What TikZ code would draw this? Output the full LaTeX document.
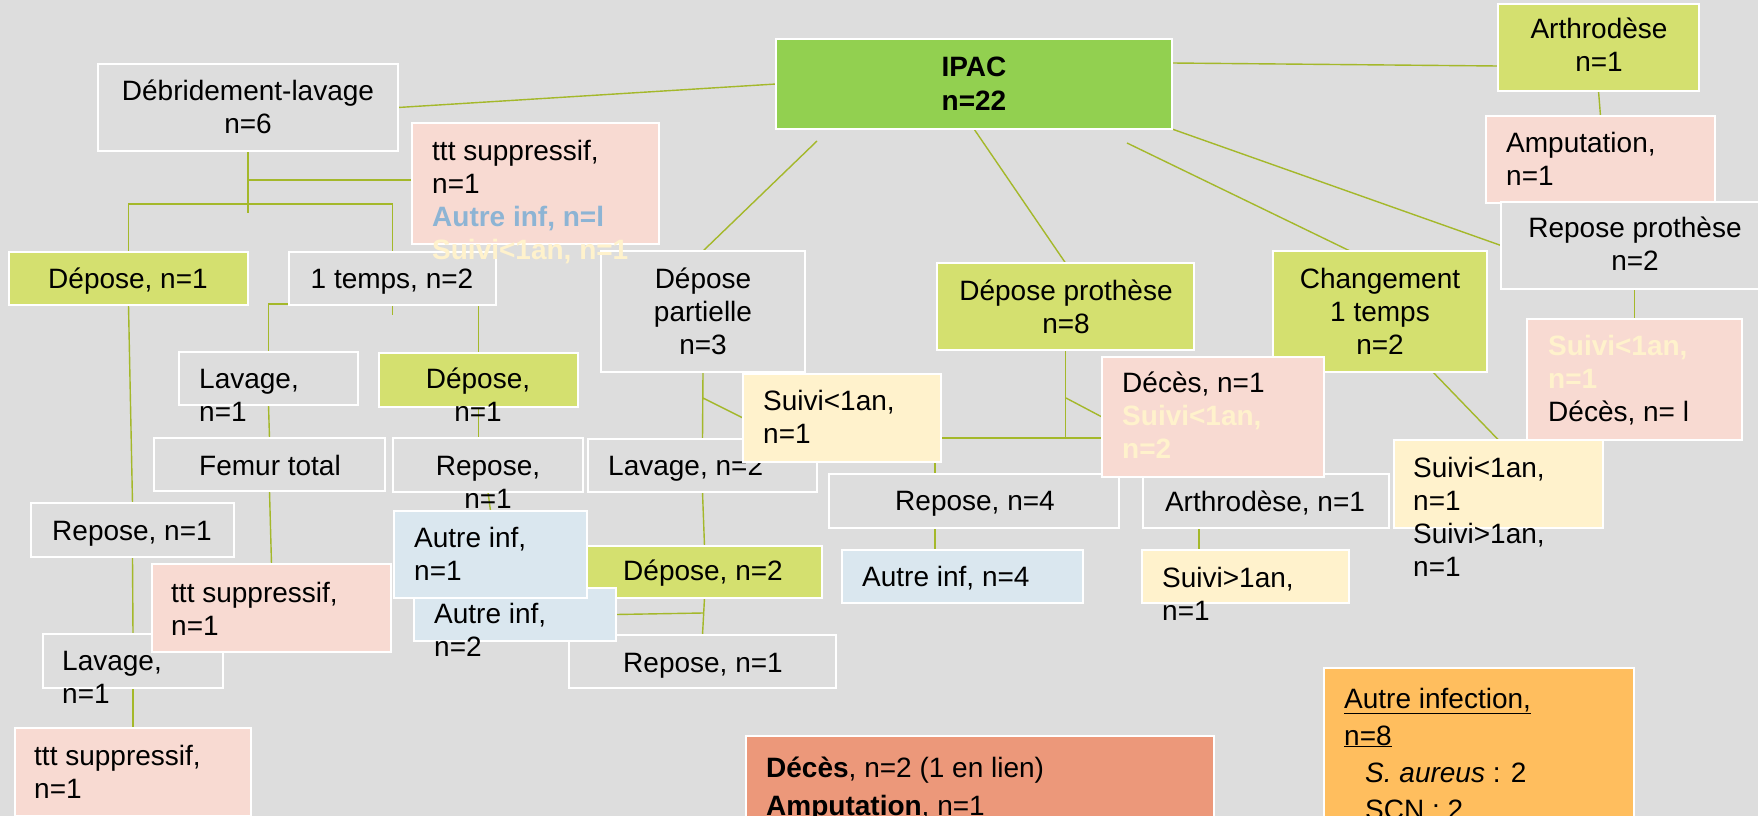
\documentclass[tikz,border=0pt]{standalone}
\usepackage{fontspec}
\setmainfont{Liberation Sans}
\usetikzlibrary{calc}
\definecolor{bggray}{HTML}{DDDDDD}
\definecolor{ipacgreen}{HTML}{92D050}
\definecolor{lgreen}{HTML}{D4E06F}
\definecolor{lpink}{HTML}{F8DAD2}
\definecolor{cream}{HTML}{FFF2CC}
\definecolor{lblue}{HTML}{DAE7EF}
\definecolor{bluetext}{HTML}{8DB4D4}
\definecolor{salmon}{HTML}{EC987A}
\definecolor{orangebox}{HTML}{FFBE5E}
\definecolor{linkgreen}{HTML}{A4B82A}
\pgfdeclarelayer{bg}
\pgfdeclarelayer{links}
\pgfsetlayers{bg,links,main}
\tikzset{
  box/.style = {
    rectangle, draw=white, line width=2pt, fill=#1,
    anchor=north west, inner sep=0pt, outer sep=0pt
  },
  box/.default = bggray,
  size/.style args = {#1/#2}{
    minimum width=#1pt, minimum height=#2pt
  },
  link/.style = {
    draw=linkgreen, line width=1.4pt
  },
  % text nodes sit on the baseline of their last line
  txt/.style = {
    inner sep=0pt, align=left, anchor=base west,
    font=\fontsize{28}{33}\selectfont
  },
  ctxt/.style = {
    txt, align=center, anchor=base
  },
}
\begin{document}
\begin{tikzpicture}[x=1pt,y=-1pt]
  \useasboundingbox (0,0) rectangle (1758,816);
  \clip (0,0) rectangle (1758,816);
  \begin{pgfonlayer}{bg}
    \fill [bggray] (0,0) rectangle (1758,816);
  \end{pgfonlayer}

  % root and first level
  \node [box, size=300/87] (deb) at (98,64) {};
  \node [ctxt] (deb-t) at (248,133) {Débridement-lavage\\n=6};
  \node [box=ipacgreen, size=396/90] (ipac) at (776,39) {};
  \node [ctxt] (ipac-t) at (974,110) {\textbf{IPAC}\\\textbf{n=22}};

  % debridement branch
  \node [box=lgreen, size=239/53] (dep1) at (9,252) {};
  \node [ctxt] (dep1-t) at (128,288) {Dépose, n=1};
  \node [box, size=207/53] (temps) at (289,252) {};
  \node [ctxt] (temps-t) at (392,288) {1 temps, n=2};
  \node [box, size=179/53] (lav1) at (179,352) {};
  \node [txt] (lav1-t) at (199,421) {Lavage,\\n=1};
  \node [box=lgreen, size=199/54] (dep2) at (379,353) {};
  \node [ctxt] (dep2-t) at (478,421) {Dépose,\\n=1};
  \node [box, size=231/53] (femur) at (154,438) {};
  \node [ctxt] (femur-t) at (270,475) {Femur total};
  \node [box, size=190/54] (rep1) at (393,438) {};
  \node [ctxt] (rep1-t) at (488,508) {Repose,\\n=1};

  % depose partielle branch
  \node [box, size=229/53] (lav2) at (588,439) {};
  \node [txt] (lav2-t) at (608,475) {Lavage, n=2};
  \node [box, size=204/121] (dp) at (601,251) {};
  \node [ctxt] (dp-t) at (703,354) {Dépose\\partielle\\n=3};
  \node [box=cream, size=198/88] (suivA) at (743,374) {};
  \node [txt] (suivA-t) at (763,443) {Suivi<1an,\\n=1};
  \node [box=lgreen, size=235/52] (depn2) at (587,546) {};
  \node [ctxt] (depn2-t) at (703,580) {Dépose, n=2};
  \node [box, size=267/53] (repB) at (569,635) {};
  \node [ctxt] (repB-t) at (703,672) {Repose, n=1};

  \node [box, size=203/54] (repL) at (31,503) {};
  \node [ctxt] (repL-t) at (132,540) {Repose, n=1};
  \node [box, size=180/54] (lav3) at (43,634) {};
  \node [txt] (lav3-t) at (62,703) {Lavage,\\n=1};
  \node [box=lpink, size=239/88] (ttt2) at (152,564) {};
  \node [txt] (ttt2-t) at (171,635) {ttt suppressif,\\n=1};
  \node [box=lpink, size=236/88] (ttt3) at (15,728) {};
  \node [txt] (ttt3-t) at (34,798) {ttt suppressif,\\n=1};
  \node [box=lblue, size=202/53] (ai2) at (414,588) {};
  \node [txt] (ai2-t) at (434,656) {Autre inf,\\n=2};
  \node [box=lblue, size=193/87] (ai1) at (394,511) {};
  \node [txt] (ai1-t) at (414,580) {Autre inf,\\n=1};

  % depose prothese branch
  \node [box=lgreen, size=257/87] (dpro) at (937,263) {};
  \node [ctxt] (dpro-t) at (1066,333) {Dépose prothèse\\n=8};
  \node [box, size=290/54] (rep4) at (829,474) {};
  \node [ctxt] (rep4-t) at (975,510) {Repose, n=4};
  \node [box=lblue, size=241/53] (ai4) at (842,550) {};
  \node [txt] (ai4-t) at (862,586) {Autre inf, n=4};
  \node [box, size=246/54] (arth1) at (1143,474) {};
  \node [ctxt] (arth1-t) at (1265,511) {Arthrodèse, n=1};
  \node [box=cream, size=207/53] (sup1) at (1142,550) {};
  \node [txt] (sup1-t) at (1162,620) {Suivi>1an,\\n=1};

  % changement branch
  \node [box=lgreen, size=214/121] (chg) at (1273,251) {};
  \node [ctxt] (chg-t) at (1380,354) {Changement\\1 temps\\n=2};
  \node [box=lpink, size=222/120] (deces1) at (1102,357) {};
  \node [txt] (deces1-t) at (1122,458) {Décès, n=1\\\textcolor{cream}{\textbf{Suivi<1an,}}\\\textcolor{cream}{\textbf{n=2}}};
  \node [box=cream, size=209/88] (suivB) at (1394,440) {};
  \node [txt] (suivB-t) at (1413,576) {Suivi<1an,\\n=1\\Suivi>1an,\\n=1};

  % right branches
  \node [box=lpink, size=215/121] (deces2) at (1527,319) {};
  \node [txt] (deces2-t) at (1548,421) {\textcolor{cream}{\textbf{Suivi<1an,}}\\\textcolor{cream}{\textbf{n=1}}\\Décès, n= l};
  \node [box=lgreen, size=201/87] (arth) at (1498,4) {};
  \node [ctxt] (arth-t) at (1599,71) {Arthrodèse\\n=1};
  \node [box=lpink, size=229/87] (amp) at (1486,116) {};
  \node [txt] (amp-t) at (1506,185) {Amputation,\\n=1};
  \node [box, size=268/87] (rpro) at (1501,202) {};
  \node [ctxt] (rpro-t) at (1635,270) {Repose prothèse\\n=2};

  % summaries
  \node [box=salmon, size=468/100] (decesS) at (746,736) {};
  \node [txt, font=\fontsize{28}{38}\selectfont] (decesS-t) at (766,815) {\textbf{Décès}, n=2 (1 en lien)\\\textbf{Amputation}, n=1};
  \node [box=orangebox, size=310/160] (autinf) at (1324,668) {};
  \node [txt, font=\fontsize{28}{37}\selectfont] (autinf-t) at (1344,819) {\underline{Autre infection,}\\\underline{n=8}\\\hspace*{21pt}\textit{S. aureus} : 2\\\hspace*{21pt}SCN : 2};

  \node [box=lpink, size=247/121] (ttt1) at (412,123) {};
  \node [txt] (ttt1-t) at (432,259) {ttt suppressif,\\n=1\\\textcolor{bluetext}{\textbf{Autre inf, n=l}}\\\textcolor{cream}{\textbf{Suivi<1an, n=1}}};

  \begin{pgfonlayer}{links}
    \coordinate (deb-j) at (248,180);
    \coordinate (deb-fork) at (248,204);
    \coordinate (temps-fork) at (393,304);
    \coordinate (ipac-dp) at (817,141);
    \coordinate (ipac-chg) at (1127,143);
    \coordinate (ipac-arth) at (1172,63);
    \coordinate (dp-j) at (703,398);
    \coordinate (depn2-j) at (703,613);
    \coordinate (dpro-j) at (1066,398);
    \coordinate (rep4-j) at (935,438);
    \coordinate (chg-j) at (1429,368);

    \draw [link] (deb.east) -- (ipac.west);
    \draw [link] (deb.south) -- ($ (deb.south) + (0,62) $);
    \draw [link] (deb-j) -- (ttt1.west |- deb-j);
    \draw [link] (dep1.north) |- (deb-fork) -| (temps.north);
    \draw [link] (temps.south) -- ($ (temps.south) + (0,10) $);
    \draw [link] (lav1.north) |- (temps-fork) -| (dep2.north);
    \draw [link] (dep1.south) -- (repL.north);
    \draw [link] (repL.south) -- (lav3.north);
    \draw [link] (lav3.south) -- (ttt3.north);
    \draw [link] (lav1.south) -- (femur.north);
    \draw [link] (femur.south) -- (ttt2.north);
    \draw [link] (dep2.south) -- (dep2.south |- rep1.north);
    \draw [link] (rep1.south) -- (ai1.north);

    \draw [link] (ipac-dp) -- (dp.north);
    \draw [link] (dp.south) -- (lav2.north);
    \draw [link] (dp-j) -- (suivA.west);
    \draw [link] (lav2.south) -- (depn2.north);
    \draw [link] (depn2.south) -- (repB.north);
    \draw [link] (depn2-j) -- (ai2.east);

    \draw [link] (ipac.south) -- (dpro.north);
    \draw [link] (dpro.south) -- (dpro.south |- rep4-j);
    \draw [link] (dpro-j) -- (deces1.west);
    \draw [link] (rep4-j) -- (rep4-j -| deces1.west);
    \draw [link] (rep4-j) -- (rep4-j |- rep4.north);
    \draw [link] (rep4.south -| rep4-j) -- (ai4.north -| rep4-j);
    \draw [link] (arth1.south -| 1199,0) -- (sup1.north -| 1199,0);

    \draw [link] (ipac-chg) -- (chg.north -| 1350,0);
    \draw [link] (chg-j) -- (suivB.north);
    \draw [link] (ipac-arth) -- (arth.west |- 0,66);
    \draw [link] (arth.south) -- (amp.north);
    \draw [link] (ipac.south east) -- (rpro.west);
    \draw [link] (deces2.north |- rpro.south) -- (deces2.north);
  \end{pgfonlayer}
\end{tikzpicture}
\end{document}
